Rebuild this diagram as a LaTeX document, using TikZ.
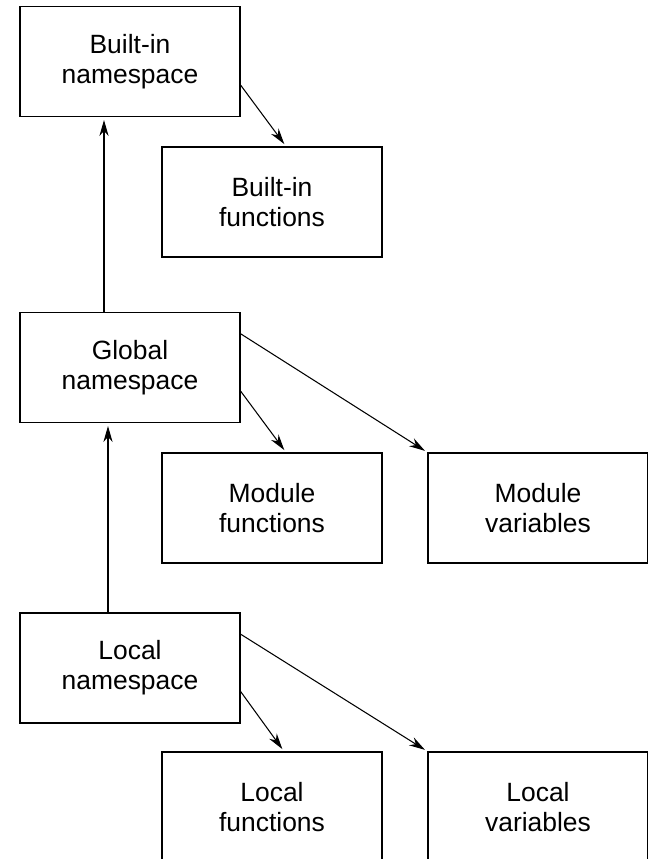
\documentclass[tikz,border=0pt]{standalone}
\usepackage{fontspec}
\setmainfont{Liberation Sans}
\usepackage{tikz}
\usetikzlibrary{arrows.meta}

\begin{document}
\begin{tikzpicture}[>={Stealth[length=0.4cm,width=0.23cm]}, font=\fontsize{18.8}{21.5}\selectfont]
		\tikzset{nsbox/.style={draw, line width=0.9pt, minimum width=5.5cm, minimum height=2.75cm, align=center, inner sep=0pt}}
		\tikzset{link/.style={->, line width=0.75pt, shorten >=0.07cm}}
		\useasboundingbox (0,0) rectangle (16.2,-21.475);
		\node[nsbox] (builtin) at (3.25,-1.54) {Built-in\\namespace};
		\node[nsbox] (bfuncs) at (6.8,-5.05) {Built-in\\functions};
		\node[nsbox] (global) at (3.25,-9.19) {Global\\namespace};
		\node[nsbox] (mfuncs) at (6.8,-12.7) {Module\\functions};
		\node[nsbox] (mvars) at (13.45,-12.7) {Module\\variables};
		\node[nsbox] (local) at (3.25,-16.7) {Local\\namespace};
		\node[nsbox] (lfuncs) at (6.8,-20.175) {Local\\functions};
		\node[nsbox] (lvars) at (13.45,-20.175) {Local\\variables};
		\draw[link] ([xshift=-0.65cm]global.north) -- ([xshift=-0.65cm]builtin.south);
		\draw[link] ([xshift=-0.55cm]local.north) -- ([xshift=-0.55cm]global.south);
		\draw[link] (builtin.-12) -- ([xshift=0.35cm]bfuncs.north);
		\draw[link] (global.-12) -- ([xshift=0.35cm]mfuncs.north);
		\draw[link] (global.17) -- (mvars.north west);
		\draw[link] (local.-12) -- ([xshift=0.3cm]lfuncs.north);
		\draw[link] (local.17) -- (lvars.north west);
	\end{tikzpicture}
\end{document}
